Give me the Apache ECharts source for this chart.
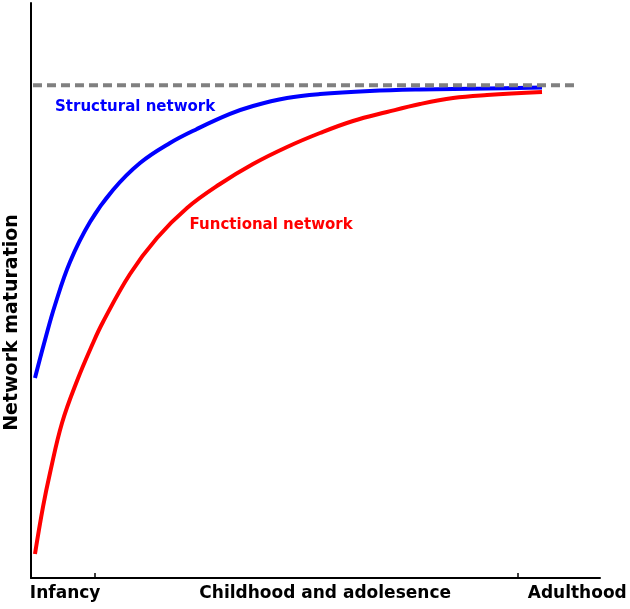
<!DOCTYPE html>
<html>
<head>
<meta charset="utf-8">
<script src="https://cdn.jsdelivr.net/npm/echarts@6/dist/echarts.min.js"></script>
<style>
    html, body { margin: 0; padding: 0; background: #fff; }
    #main { width: 630px; height: 609px; }
</style>
</head>
<body>
<div id="main"></div>
<script>
// 数据 (x = development 0-100, y = maturation 0-100)
var stageLabels = ['Infancy', 'Childhood and adolesence', 'Adulthood'];
var stageLabelPos = [6, 51.7, 96];
var stageTicks = [11.25, 85.6];

var structAge = [0.7, 2.46, 4.22, 6.85, 10.37, 14.41, 19.16, 24.43, 29.17, 34.97, 39.02, 44.99, 50.79, 59.58, 68.37, 80.14, 89.81];
var structVal = [34.78, 41.39, 47.48, 54.96, 61.91, 67.48, 72.17, 75.65, 78.09, 80.7, 82.09, 83.48, 84.17, 84.7, 84.96, 85.13, 85.3];

var funcAge = [0.7, 2.11, 3.34, 5.45, 8.08, 10.9, 12.65, 17.4, 22.14, 27.42, 33.22, 39.02, 45.0, 50.79, 56.59, 62.57, 68.37, 74.17, 80.14, 89.81];
var funcVal = [4.17, 12.35, 18.26, 26.96, 34.26, 40.87, 44.52, 52.87, 59.13, 64.35, 68.52, 72.0, 74.96, 77.39, 79.48, 81.04, 82.43, 83.48, 84.0, 84.52];

var adultAge = [0.35, 96.3];
var adultLevel = 85.7;

var seriesNames = ['Structural network', 'Functional network'];
var seriesLabelAt = [[18.3, 81.9], [42.2, 61.4]];

function _pairs(xs, ys) {
    var out = [];
    for (var i = 0; i < xs.length; i++) {
        out.push([xs[i], ys[i]]);
    }
    return out;
}

function _curve(name, xs, ys, color, labelAt) {
    return {
        name: name,
        type: 'line',
        smooth: 0.4,
        symbol: 'none',
        lineStyle: { color: color, width: 4 },
        data: _pairs(xs, ys),
        markPoint: {
            symbol: 'circle',
            symbolSize: 0,
            silent: true,
            label: {
                show: true,
                position: 'inside',
                formatter: name,
                color: color,
                fontFamily: 'DejaVu Sans',
                fontWeight: 'bold',
                fontSize: 15
            },
            data: [{ coord: labelAt }]
        }
    };
}

var font = 'DejaVu Sans';
var option = {
    animation: false,
    grid: { left: 31, right: 30, top: 3, bottom: 31, outerBoundsMode: 'none' },
    xAxis: {
        type: 'value',
        min: 0,
        max: 100,
        splitLine: { show: false },
        axisLine: { lineStyle: { color: '#000', width: 2 } },
        axisTick: {
            show: true,
            inside: true,
            length: 5,
            customValues: stageTicks,
            lineStyle: { color: '#000', width: 1.5 }
        },
        axisLabel: {
            customValues: stageLabelPos,
            margin: 7,
            color: '#000',
            fontFamily: font,
            fontWeight: 'bold',
            fontSize: 17,
            formatter: function (v) {
                var idx = stageLabelPos.indexOf(v);
                return idx >= 0 ? stageLabels[idx] : '';
            }
        }
    },
    yAxis: {
        type: 'value',
        min: 0,
        max: 100,
        name: 'Network maturation',
        nameLocation: 'middle',
        nameRotate: 90,
        nameGap: 9,
        nameTextStyle: {
            color: '#000',
            fontFamily: font,
            fontWeight: 'bold',
            fontSize: 19,
            // push the title a little below the middle of the axis
            padding: [0, 64, 0, 0]
        },
        splitLine: { show: false },
        axisTick: { show: false },
        axisLabel: { show: false },
        axisLine: { lineStyle: { color: '#000', width: 2 } }
    },
    series: [
        _curve(seriesNames[0], structAge, structVal, '#0000ff', seriesLabelAt[0]),
        _curve(seriesNames[1], funcAge, funcVal, '#ff0000', seriesLabelAt[1]),
        {
            name: 'Adult level',
            type: 'line',
            symbol: 'none',
            lineStyle: { color: '#808080', width: 4, type: [9, 5] },
            data: _pairs(adultAge, [adultLevel, adultLevel])
        }
    ]
};

var chart = echarts.init(document.getElementById('main'));
chart.setOption(option);
</script>
</body>
</html>
